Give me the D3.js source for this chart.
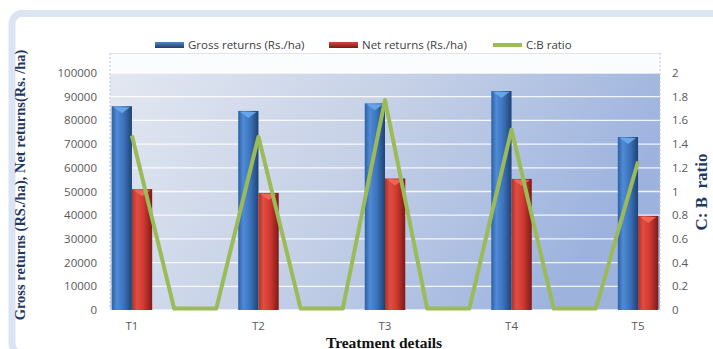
<!DOCTYPE html>
<html>
<head>
<meta charset="utf-8">
<script src="https://cdn.jsdelivr.net/npm/d3@7"></script>
<style>
  html, body { margin: 0; padding: 0; background: #ffffff; }
  svg { display: block; }
</style>
</head>
<body>
<svg id="chart" width="713" height="349"></svg>
<script>
// Treatments with two spacer slots between each (the ratio line drops to 0 there)
const categories = ["T1", "", "", "T2", "", "", "T3", "", "", "T4", "", "", "T5"];
const grossReturns = [86000, null, null, 84000, null, null, 87200, null, null, 92400, null, null, 73000];
const netReturns   = [51000, null, null, 49400, null, null, 55500, null, null, 55300, null, null, 39700];
const cbRatio      = [1.46, 0, 0, 1.45, 0, 0, 1.76, 0, 0, 1.51, 0, 0, 1.24];
const leftTicks  = [0, 10000, 20000, 30000, 40000, 50000, 60000, 70000, 80000, 90000, 100000];
const rightTicks = [0, 0.2, 0.4, 0.6, 0.8, 1, 1.2, 1.4, 1.6, 1.8, 2];
const seriesNames = ["Gross returns (Rs./ha)", "Net returns (Rs./ha)", "C:B ratio"];

const svg = d3.select("#chart");
const defs = svg.append("defs");

// outer frame
svg.append("rect")
  .attr("x", 12).attr("y", 13.5).attr("width", 730).attr("height", 340)
  .attr("rx", 10).attr("fill", "#ffffff")
  .attr("stroke", "#dbe4f1").attr("stroke-width", 7);

const plot = { left: 110, right: 660, top: 53, valTop: 73, bottom: 310 };

const x = d3.scaleBand()
  .domain(d3.range(categories.length))
  .range([plot.left, plot.right])
  .paddingInner(0.04).paddingOuter(0.04);
const yL = d3.scaleLinear().domain([0, 100000]).range([plot.bottom, plot.valTop]);
const yR = d3.scaleLinear().domain([0, 2]).range([plot.bottom, plot.valTop]);

// gradients
const bg = defs.append("linearGradient").attr("id", "bg")
  .attr("x1", 0).attr("y1", 0).attr("x2", 1).attr("y2", 0.3);
bg.append("stop").attr("offset", "0%").attr("stop-color", "#e3e8f1");
bg.append("stop").attr("offset", "50%").attr("stop-color", "#c6d1e7");
bg.append("stop").attr("offset", "100%").attr("stop-color", "#9db3de");

function barGrad(id, stops) {
  const g = defs.append("linearGradient").attr("id", id)
    .attr("x1", 0).attr("y1", 0).attr("x2", 1).attr("y2", 0);
  stops.forEach(([o, c]) => g.append("stop").attr("offset", o).attr("stop-color", c));
}
barGrad("blueBar", [["0%", "#2d60a4"], ["25%", "#4f8bd6"], ["60%", "#3c72ba"], ["100%", "#1e4374"]]);
barGrad("redBar", [["0%", "#ab322b"], ["25%", "#e24d42"], ["60%", "#cc372f"], ["100%", "#7c1b17"]]);

// plot area: top strip + gradient wall
svg.append("rect")
  .attr("x", plot.left).attr("y", plot.top)
  .attr("width", plot.right - plot.left).attr("height", plot.valTop - plot.top)
  .attr("fill", "#fbfcfe");
svg.append("rect")
  .attr("x", plot.left).attr("y", plot.valTop)
  .attr("width", plot.right - plot.left).attr("height", plot.bottom - plot.valTop)
  .attr("fill", "url(#bg)");
svg.append("line")
  .attr("x1", plot.left).attr("x2", plot.right)
  .attr("y1", plot.top + 0.5).attr("y2", plot.top + 0.5)
  .attr("stroke", "#e2e4e8").attr("stroke-width", 1);
[plot.left, plot.right].forEach(px => {
  svg.append("line")
    .attr("x1", px).attr("x2", px).attr("y1", plot.top).attr("y2", plot.bottom)
    .attr("stroke", "#b9c2d3").attr("stroke-width", 1).attr("stroke-dasharray", "2,2");
});

// gridlines
svg.append("g").selectAll("line").data(leftTicks).join("line")
  .attr("x1", plot.left).attr("x2", plot.right)
  .attr("y1", d => yL(d)).attr("y2", d => yL(d))
  .attr("stroke", "#ffffff").attr("stroke-opacity", 0.85).attr("stroke-width", 1.3);

// bars
const half = x.bandwidth() / 2;
function drawBars(values, offset, fill, cap) {
  const g = svg.append("g");
  const data = values.map((v, i) => ({ v, i })).filter(d => d.v != null);
  g.selectAll("rect").data(data).join("rect")
    .attr("x", d => x(d.i) + offset)
    .attr("y", d => yL(d.v))
    .attr("width", half)
    .attr("height", d => yL(0) - yL(d.v))
    .attr("fill", fill);
  g.selectAll("path").data(data).join("path")
    .attr("d", d => {
      const x0 = x(d.i) + offset, t = yL(d.v);
      return `M${x0 + 2},${t + 1}L${x0 + half - 2},${t + 1}L${x0 + half / 2},${t + 7}Z`;
    })
    .attr("fill", cap).attr("opacity", 0.9);
}
drawBars(grossReturns, 0, "url(#blueBar)", "#6aa8ec");
drawBars(netReturns, half, "url(#redBar)", "#f06a5e");

// C:B ratio line
const line = d3.line()
  .x((d, i) => x(i) + x.bandwidth() / 2)
  .y(d => yR(d) - 1.5);
svg.append("path").datum(cbRatio)
  .attr("d", line)
  .attr("fill", "none").attr("stroke", "#9bbb59")
  .attr("stroke-width", 4).attr("stroke-linejoin", "round");

// axes labels
const tickFont = "'Open Sans', 'DejaVu Sans', sans-serif";
svg.append("g").selectAll("text").data(leftTicks).join("text")
  .attr("x", 97).attr("y", d => yL(d)).attr("dy", "0.35em")
  .attr("text-anchor", "end")
  .attr("font-family", tickFont).attr("font-size", 11.5).attr("fill", "#595959")
  .text(d => d);
svg.append("g").selectAll("text").data(rightTicks).join("text")
  .attr("x", 672).attr("y", d => yR(d)).attr("dy", "0.35em")
  .attr("text-anchor", "start")
  .attr("font-family", tickFont).attr("font-size", 11.5).attr("fill", "#595959")
  .text(d => d3.format("~g")(d));
svg.append("g").selectAll("text").data(categories.map((c, i) => ({ c, i })).filter(d => d.c)).join("text")
  .attr("x", d => x(d.i) + x.bandwidth() / 2).attr("y", 326).attr("dy", "0.35em")
  .attr("text-anchor", "middle")
  .attr("font-family", tickFont).attr("font-size", 11.5).attr("fill", "#595959")
  .text(d => d.c);

// axis titles
const serif = "'Liberation Serif', 'Times New Roman', serif";
svg.append("text")
  .attr("transform", "translate(25,185) rotate(-90)")
  .attr("text-anchor", "middle")
  .attr("font-family", serif).attr("font-weight", "bold").attr("font-size", 14.5)
  .attr("fill", "#1f3864")
  .text("Gross returns (RS./ha), Net returns(Rs. /ha)");
svg.append("text")
  .attr("transform", "translate(707,192) rotate(-90)")
  .attr("text-anchor", "middle")
  .attr("font-family", serif).attr("font-weight", "bold").attr("font-size", 17)
  .attr("fill", "#1f3864")
  .attr("xml:space", "preserve")
  .text("C: B  ratio");
svg.append("text")
  .attr("x", 384).attr("y", 347.5)
  .attr("text-anchor", "middle")
  .attr("font-family", serif).attr("font-weight", "bold").attr("font-size", 15.5)
  .attr("fill", "#111111")
  .text("Treatment details");

// legend
const legend = svg.append("g").attr("font-family", tickFont).attr("font-size", 11.5).attr("fill", "#404040");
const legendItems = [
  { x: 155, text: seriesNames[0], kind: "bar", fill: "url(#legBlue)" },
  { x: 329, text: seriesNames[1], kind: "bar", fill: "url(#legRed)" },
  { x: 493, text: seriesNames[2], kind: "line", fill: "#9bbb59" }
];
function legGrad(id, top, bottom) {
  const g = defs.append("linearGradient").attr("id", id).attr("x1", 0).attr("y1", 0).attr("x2", 0).attr("y2", 1);
  g.append("stop").attr("offset", "0%").attr("stop-color", top);
  g.append("stop").attr("offset", "100%").attr("stop-color", bottom);
}
legGrad("legBlue", "#4f86cc", "#1f3f6e");
legGrad("legRed", "#d9463d", "#7a1a16");
legendItems.forEach(d => {
  if (d.kind === "bar") {
    legend.append("rect").attr("x", d.x).attr("y", 42).attr("width", 29).attr("height", 6).attr("fill", d.fill);
  } else {
    legend.append("line").attr("x1", d.x).attr("x2", d.x + 29).attr("y1", 45).attr("y2", 45)
      .attr("stroke", d.fill).attr("stroke-width", 4);
  }
  legend.append("text").attr("x", d.x + 33).attr("y", 45).attr("dy", "0.35em").text(d.text);
});
</script>
</body>
</html>
